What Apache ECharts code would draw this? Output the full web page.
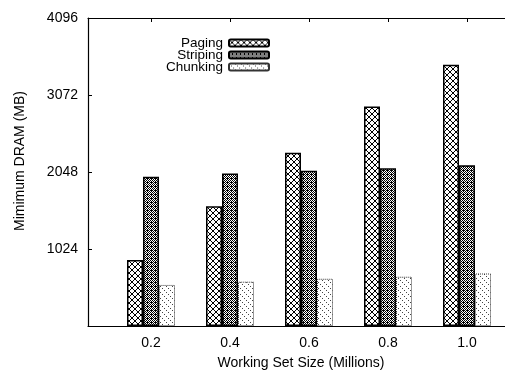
<!DOCTYPE html>
<html>
<head>
<meta charset="utf-8">
<script src="https://cdn.jsdelivr.net/npm/echarts@6/dist/echarts.min.js"></script>
<style>html,body{margin:0;padding:0;background:#fff}#c{width:505px;height:375px}</style>
</head>
<body>
<div id="c"></div>
<script>
var categories = [0.2, 0.4, 0.6, 0.8, 1.0];
var seriesNames = ['Paging', 'Striping', 'Chunking'];
var paging = [877, 1593, 2304, 2919, 3473];
var striping = [1986, 2029, 2064, 2098, 2138];
var chunking = [546, 589, 628, 655, 698];
var yTicks = [0, 1024, 2048, 3072, 4096];

function tile(rows, dark) {
  var c = document.createElement('canvas');
  c.width = rows[0].length; c.height = rows.length;
  var ctx = c.getContext('2d');
  ctx.fillStyle = '#fff'; ctx.fillRect(0, 0, c.width, c.height);
  ctx.fillStyle = dark;
  for (var y = 0; y < rows.length; y++) {
    for (var x = 0; x < rows[y].length; x++) {
      if (rows[y][x] === 'B') ctx.fillRect(x, y, 1, 1);
    }
  }
  return { image: c, repeat: 'repeat' };
}

var patterns = {
  paging: tile(['BWWWWB', 'WBWWBW', 'WWBBWW', 'WWBBWW', 'WBWWBW', 'BWWWWB'], '#000'),
  striping: tile(['BWBW', 'WBWB', 'BWBB', 'WBWB'], '#000'),
  chunking: tile(['BWWWWW', 'WWWWWW', 'WWBWWW', 'WWWWWW', 'WWWWBW', 'WWWWWW'], '#444')
};

function pairs(vals) {
  return vals.map(function (v, i) { return [categories[i], v]; });
}

var xMin = 0.0405, xMax = 1.0962;
var font = 'Liberation Sans, Arial, Helvetica, sans-serif';

var chart = echarts.init(document.getElementById('c'), null, { renderer: 'canvas' });
chart.setOption({
  animation: false,
  backgroundColor: '#fff',
  textStyle: { fontFamily: font },
  grid: { left: 88, right: 0, top: 18, bottom: 44, containLabel: false },
  legend: {
    orient: 'vertical',
    align: 'right',
    right: 235,
    top: 36,
    padding: 0,
    itemWidth: 40,
    itemHeight: 7,
    itemGap: -2,
    textStyle: { fontSize: 13.5, color: '#000', fontFamily: font, padding: [0, 1, 0, 0] },
    data: seriesNames
  },
  xAxis: [{
    type: 'value',
    position: 'bottom',
    min: xMin, max: xMax,
    splitLine: { show: false },
    axisLine: { show: true, lineStyle: { color: '#000', width: 1.2 } },
    axisTick: { show: true, inside: true, length: 4, customValues: categories, lineStyle: { color: '#000' } },
    axisLabel: { customValues: categories, color: '#000', fontSize: 14, margin: 10, fontFamily: font,
      formatter: function (v) { return v.toFixed(1); } },
    name: 'Working Set Size (Millions)',
    nameLocation: 'middle',
    nameGap: 30,
    nameTextStyle: { fontSize: 14, color: '#000', fontFamily: font, padding: [0, 0, 0, 9] }
  }, {
    type: 'value',
    position: 'top',
    min: xMin, max: xMax,
    splitLine: { show: false },
    axisLine: { show: true, onZero: false, lineStyle: { color: '#000', width: 1.2 } },
    axisTick: { show: true, inside: true, length: 4, customValues: categories, lineStyle: { color: '#000' } },
    axisLabel: { show: false }
  }],
  yAxis: {
    type: 'value',
    min: 0, max: 4096, interval: 1024,
    splitLine: { show: false },
    axisLine: { show: true, lineStyle: { color: '#000', width: 1.2 } },
    axisTick: { show: true, inside: true, length: 4, lineStyle: { color: '#000' } },
    axisLabel: { color: '#000', fontSize: 14, margin: 10, fontFamily: font,
      formatter: function (v) { return v === 0 ? '' : String(v); } },
    name: 'Mimimum DRAM (MB)',
    nameLocation: 'middle',
    nameGap: 61,
    nameTextStyle: { fontSize: 14, color: '#000', fontFamily: font, padding: [0, 0, 0, 22] }
  },
  series: [{
    name: 'Paging', type: 'bar', xAxisIndex: 0, barWidth: 16, barGap: '0%',
    data: pairs(paging),
    itemStyle: { color: patterns.paging, borderColor: '#000', borderWidth: 1.5 }
  }, {
    name: 'Striping', type: 'bar', xAxisIndex: 0, barWidth: 16, barGap: '0%',
    data: pairs(striping),
    itemStyle: { color: patterns.striping, borderColor: '#000', borderWidth: 1.5 }
  }, {
    name: 'Chunking', type: 'bar', xAxisIndex: 0, barWidth: 16, barGap: '0%',
    data: pairs(chunking),
    itemStyle: { color: patterns.chunking, borderColor: '#333', borderWidth: 1, borderType: 'dotted' }
  }]
});
</script>
</body>
</html>
